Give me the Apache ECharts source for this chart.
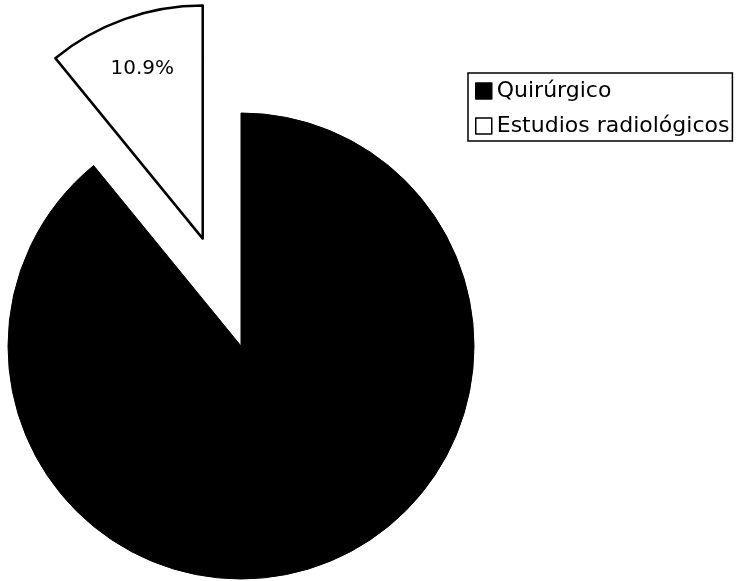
<!DOCTYPE html>
<html>
<head>
<meta charset="utf-8">
<script src="https://cdn.jsdelivr.net/npm/echarts@6/dist/echarts.min.js"></script>
<style>
  html, body { margin: 0; padding: 0; background: #fff; }
  #chart { width: 745px; height: 581px; }
</style>
</head>
<body>
<div id="chart"></div>
<script>
// Distribution by category (percent)
const categories = ['Quirúrgico', 'Estudios radiológicos'];
const values = [89.1, 10.9];
const fills = ['#000000', '#ffffff'];

const chart = echarts.init(document.getElementById('chart'), null, { renderer: 'canvas' });

const total = values.reduce((a, b) => a + b, 0);
// Mid angle of the small slice, measured clockwise from 12 o'clock
const midDeg = 360 * (values[0] + values[1] / 2) / total;
const midRad = midDeg * Math.PI / 180;
const pieRadius = 233;
const labelShift = 0.26 * pieRadius;

const data = categories.map((name, i) => ({
  name: name,
  value: values[i],
  selected: i === 1,
  itemStyle: { color: fills[i], borderColor: '#000', borderWidth: i === 1 ? 2.5 : 1 },
  label: { show: i === 1 }
}));

chart.setOption({
  animation: false,
  backgroundColor: '#ffffff',
  legend: {
    orient: 'vertical',
    left: 468,
    top: 73,
    data: categories,
    icon: 'rect',
    itemWidth: 16,
    itemHeight: 16,
    itemGap: 11,
    padding: [6, 3, 3, 7],
    borderColor: '#000',
    borderWidth: 1.5,
    selectedMode: false,
    itemStyle: { borderColor: '#000', borderWidth: 1.5 },
    textStyle: {
      fontFamily: 'DejaVu Sans, sans-serif',
      fontSize: 22,
      lineHeight: 24,
      color: '#000'
    }
  },
  series: [{
    type: 'pie',
    center: [241, 346],
    radius: pieRadius,
    startAngle: 90,
    clockwise: true,
    selectedMode: 'single',
    selectedOffset: 114,
    avoidLabelOverlap: false,
    silent: true,
    emphasis: { disabled: true },
    label: {
      position: 'inside',
      formatter: p => p.value.toFixed(1) + '%',
      fontFamily: 'DejaVu Sans, sans-serif',
      fontSize: 20,
      color: '#000'
    },
    labelLine: { show: false },
    labelLayout: function (params) {
      if (params.dataIndex !== 1) return {};
      return {
        dx: Math.sin(midRad) * labelShift,
        dy: -Math.cos(midRad) * labelShift
      };
    },
    data: data
  }]
});
</script>
</body>
</html>
